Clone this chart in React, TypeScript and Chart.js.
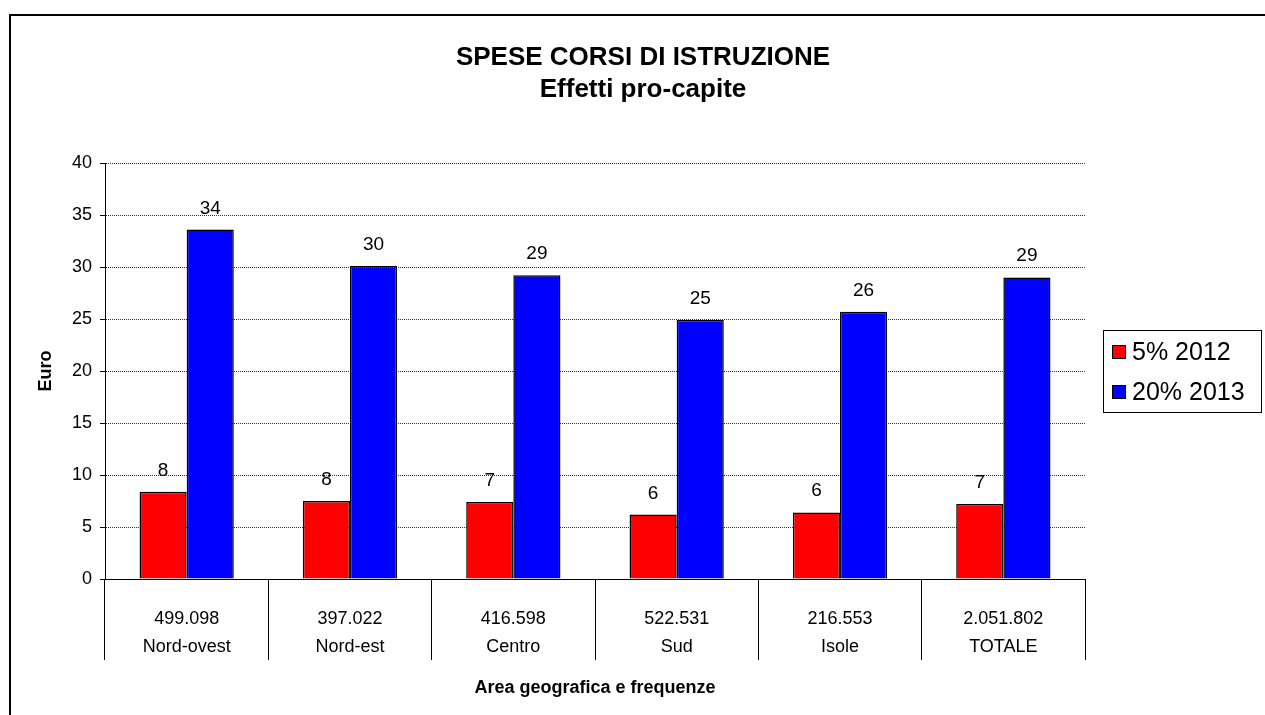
import React, { useEffect, useRef } from "react";
import { Chart, registerables } from "chart.js";

Chart.register(...registerables);

const TITLE = "SPESE CORSI DI ISTRUZIONE";
const SUBTITLE = "Effetti pro-capite";
const Y_TITLE = "Euro";
const X_TITLE = "Area geografica e frequenze";

const categories = ["Nord-ovest", "Nord-est", "Centro", "Sud", "Isole", "TOTALE"];
const frequencies = ["499.098", "397.022", "416.598", "522.531", "216.553", "2.051.802"];

const seriesNames = ["5% 2012", "20% 2013"];
const values2012 = [8.4, 7.5, 7.4, 6.2, 6.4, 7.2];
const values2013 = [33.6, 30.1, 29.2, 24.9, 25.7, 29.0];
const seriesColors = ["#FF0000", "#0000FF"];

const yTicksMin = 0;
const yTicksMax = 40;
const yTicksStep = 5;

const FONT = "'Liberation Sans', Arial, Helvetica, sans-serif";

const framePlugin = {
  id: "frame",
  beforeDraw(chart: any) {
    const ctx = chart.ctx;
    ctx.save();
    ctx.fillStyle = "#fff";
    ctx.fillRect(0, 0, chart.width, chart.height);
    ctx.strokeStyle = "#000";
    ctx.lineWidth = 2;
    ctx.beginPath();
    ctx.moveTo(10, chart.height + 5);
    ctx.lineTo(10, 15);
    ctx.lineTo(chart.width + 5, 15);
    ctx.stroke();
    ctx.restore();
  },
};

const titlePlugin = {
  id: "customTitle",
  afterDraw(chart: any) {
    const ctx = chart.ctx;
    ctx.save();
    ctx.fillStyle = "#000";
    ctx.textAlign = "center";
    ctx.textBaseline = "middle";
    ctx.font = `bold 26px ${FONT}`;
    ctx.fillText(TITLE, 643, 58);
    ctx.font = `bold 26px ${FONT}`;
    ctx.fillText(SUBTITLE, 643, 90);
    ctx.restore();
  },
};

const dataLabelPlugin = {
  id: "dataLabels",
  afterDatasetsDraw(chart: any) {
    const ctx = chart.ctx;
    ctx.save();
    ctx.fillStyle = "#000";
    ctx.textAlign = "center";
    ctx.textBaseline = "alphabetic";
    ctx.font = `19px ${FONT}`;
    chart.data.datasets.forEach((ds: any, di: number) => {
      const meta = chart.getDatasetMeta(di);
      meta.data.forEach((bar: any, i: number) => {
        const v = ds.data[i];
        ctx.fillText(String(Math.round(v)), bar.x, bar.y - 16);
      });
    });
    ctx.restore();
  },
};

const legendPlugin = {
  id: "customLegend",
  afterDraw(chart: any) {
    const ctx = chart.ctx;
    ctx.save();
    ctx.strokeStyle = "#000";
    ctx.lineWidth = 1;
    ctx.strokeRect(1103.5, 330.5, 158, 82);
    ctx.font = `25px ${FONT}`;
    ctx.textBaseline = "middle";
    ctx.textAlign = "left";
    chart.data.datasets.forEach((ds: any, i: number) => {
      const cy = 352 + i * 40;
      ctx.fillStyle = ds.backgroundColor;
      ctx.fillRect(1112, cy - 7, 14, 14);
      ctx.strokeRect(1112.5, cy - 6.5, 13, 13);
      ctx.fillStyle = "#000";
      ctx.fillText(ds.label, 1132, cy + 1);
    });
    ctx.restore();
  },
};

export default function App() {
  const ref = useRef<HTMLCanvasElement>(null);

  useEffect(() => {
    if (!ref.current) return;
    Chart.defaults.color = "#000";
    Chart.defaults.font.family = FONT;
    const labels = categories.map((c, i) => [frequencies[i], c]);
    const chart = new Chart(ref.current, {
      type: "bar",
      data: {
        labels,
        datasets: [
          {
            label: seriesNames[0],
            data: values2012,
            backgroundColor: seriesColors[0],
            borderColor: "#000",
            borderWidth: 1.5,
            categoryPercentage: 0.577,
            barPercentage: 1,
          },
          {
            label: seriesNames[1],
            data: values2013,
            backgroundColor: seriesColors[1],
            borderColor: "#000",
            borderWidth: 1.5,
            categoryPercentage: 0.577,
            barPercentage: 1,
          },
        ],
      },
      options: {
        animation: false,
        responsive: false,
        devicePixelRatio: 1,
        layout: { padding: { left: 10, right: 180, top: 163, bottom: 15 } },
        plugins: {
          legend: { display: false },
          title: { display: false },
          tooltip: { enabled: false },
        },
        scales: {
          x: {
            offset: true,
            afterFit: (scale: any) => {
              scale.height = 121;
            },
            grid: {
              display: true,
              offset: true,
              drawOnChartArea: false,
              drawTicks: true,
              tickLength: 81,
              tickColor: "#000",
              color: "#000",
              tickWidth: 1,
            },
            border: { display: true, color: "#000", width: 1 },
            ticks: {
              autoSkip: false,
              maxRotation: 0,
              minRotation: 0,
              padding: -55,
              color: "#000",
              font: { size: 18, lineHeight: "28px", family: FONT },
            },
            title: {
              display: true,
              text: X_TITLE,
              color: "#000",
              font: { size: 18, weight: "bold", family: FONT },
              padding: { top: 0, bottom: 1 },
            },
          },
          y: {
            min: yTicksMin,
            max: yTicksMax,
            afterFit: (scale: any) => {
              scale.width = 95;
            },
            ticks: {
              stepSize: yTicksStep,
              padding: 8,
              color: "#000",
              font: { size: 18, family: FONT },
            },
            grid: {
              color: "#333",
              lineWidth: 1,
              tickColor: "#000",
              tickLength: 5,
              tickWidth: 1,
            },
            border: { display: true, color: "#000", width: 1, dash: [1, 1] },
            title: {
              display: true,
              text: Y_TITLE,
              color: "#000",
              font: { size: 18, weight: "bold", family: FONT },
              padding: { top: 25, bottom: 0 },
            },
          },
        },
      },
      plugins: [framePlugin, dataLabelPlugin, titlePlugin, legendPlugin],
    } as any);
    return () => chart.destroy();
  }, []);

  return (
    <div style={{ position: "fixed", left: 0, top: 0, width: 1265, height: 715, background: "#fff" }}>
      <canvas ref={ref} width={1265} height={715} />
    </div>
  );
}
